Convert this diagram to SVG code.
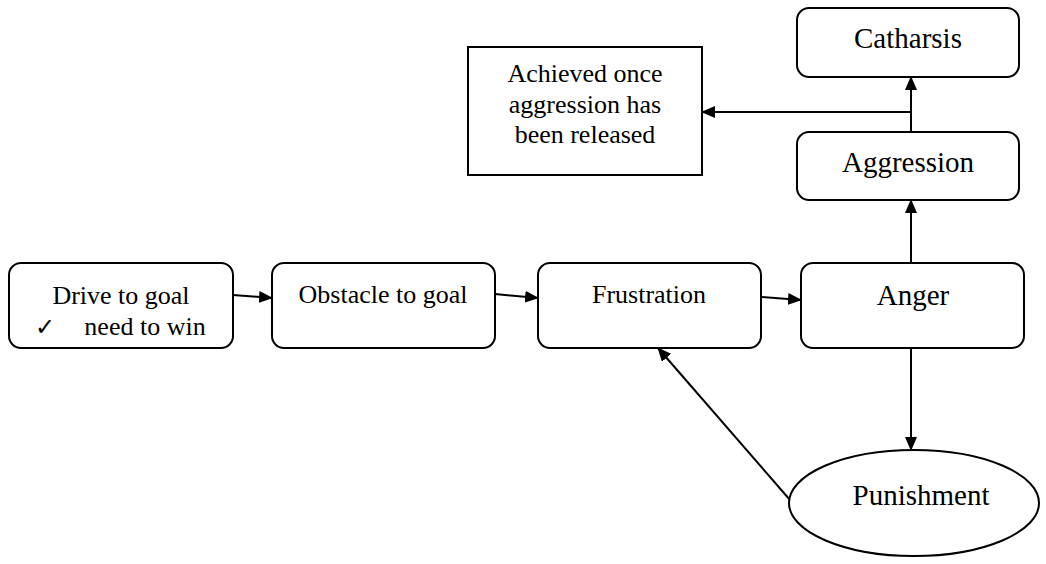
<svg xmlns="http://www.w3.org/2000/svg" width="1046" height="564" viewBox="0 0 1046 564">
<style>
.box{fill:#fff;stroke:#000;stroke-width:2}
text{font-family:'Liberation Serif','Times New Roman','DejaVu Serif',Times,serif;fill:#000;text-anchor:middle}
.t{font-size:26px}
.tl{font-size:29px}
.c{fill:none;stroke:#000;stroke-width:2}
</style>
<defs>
<marker id="ah" markerUnits="userSpaceOnUse" markerWidth="14" markerHeight="12" refX="13" refY="6" orient="auto">
<path d="M0,0 L14,6 L0,12 z" fill="#000"/>
</marker>
</defs>
<rect width="1046" height="564" fill="#fff"/>
<g id="connectors">
<path class="c" d="M233,295 L272,298" marker-end="url(#ah)"/>
<path class="c" d="M495,294 L538,298" marker-end="url(#ah)"/>
<path class="c" d="M761,297 L801,300" marker-end="url(#ah)"/>
<path class="c" d="M911,263 L911,200" marker-end="url(#ah)"/>
<path class="c" d="M911,132 L911,77" marker-end="url(#ah)"/>
<path class="c" d="M911,112 L702,112" marker-end="url(#ah)"/>
<path class="c" d="M911,348 L911,450" marker-end="url(#ah)"/>
<path class="c" d="M790,500 L658,348" marker-end="url(#ah)"/>
</g>
<g id="drive">
<rect class="box" x="9" y="263" width="224" height="85" rx="12"/>
<text class="t" x="121" y="304">Drive to goal</text>
<text x="45" y="335" font-size="24" style="font-family:'DejaVu Sans',sans-serif">✓</text>
<text class="t" x="145" y="335">need to win</text>
</g>
<g id="obstacle">
<rect class="box" x="272" y="263" width="223" height="85" rx="12"/>
<text class="t" x="383" y="303">Obstacle to goal</text>
</g>
<g id="frustration">
<rect class="box" x="538" y="263" width="223" height="85" rx="12"/>
<text class="t" x="649" y="303">Frustration</text>
</g>
<g id="anger">
<rect class="box" x="801" y="263" width="223" height="85" rx="12"/>
<text class="tl" x="913" y="305">Anger</text>
</g>
<g id="aggression">
<rect class="box" x="797" y="132" width="222" height="68" rx="12"/>
<text class="tl" x="908" y="172">Aggression</text>
</g>
<g id="catharsis">
<rect class="box" x="797" y="8" width="222" height="69" rx="12"/>
<text class="tl" x="908" y="48">Catharsis</text>
</g>
<g id="achieved">
<rect class="box" x="468" y="47" width="234" height="128"/>
<text class="t" x="585" y="82">Achieved once</text>
<text class="t" x="585" y="113">aggression has</text>
<text class="t" x="585" y="143">been released</text>
</g>
<g id="punishment">
<ellipse class="box" cx="914" cy="503" rx="125" ry="53"/>
<text class="tl" x="921" y="505">Punishment</text>
</g>
</svg>
